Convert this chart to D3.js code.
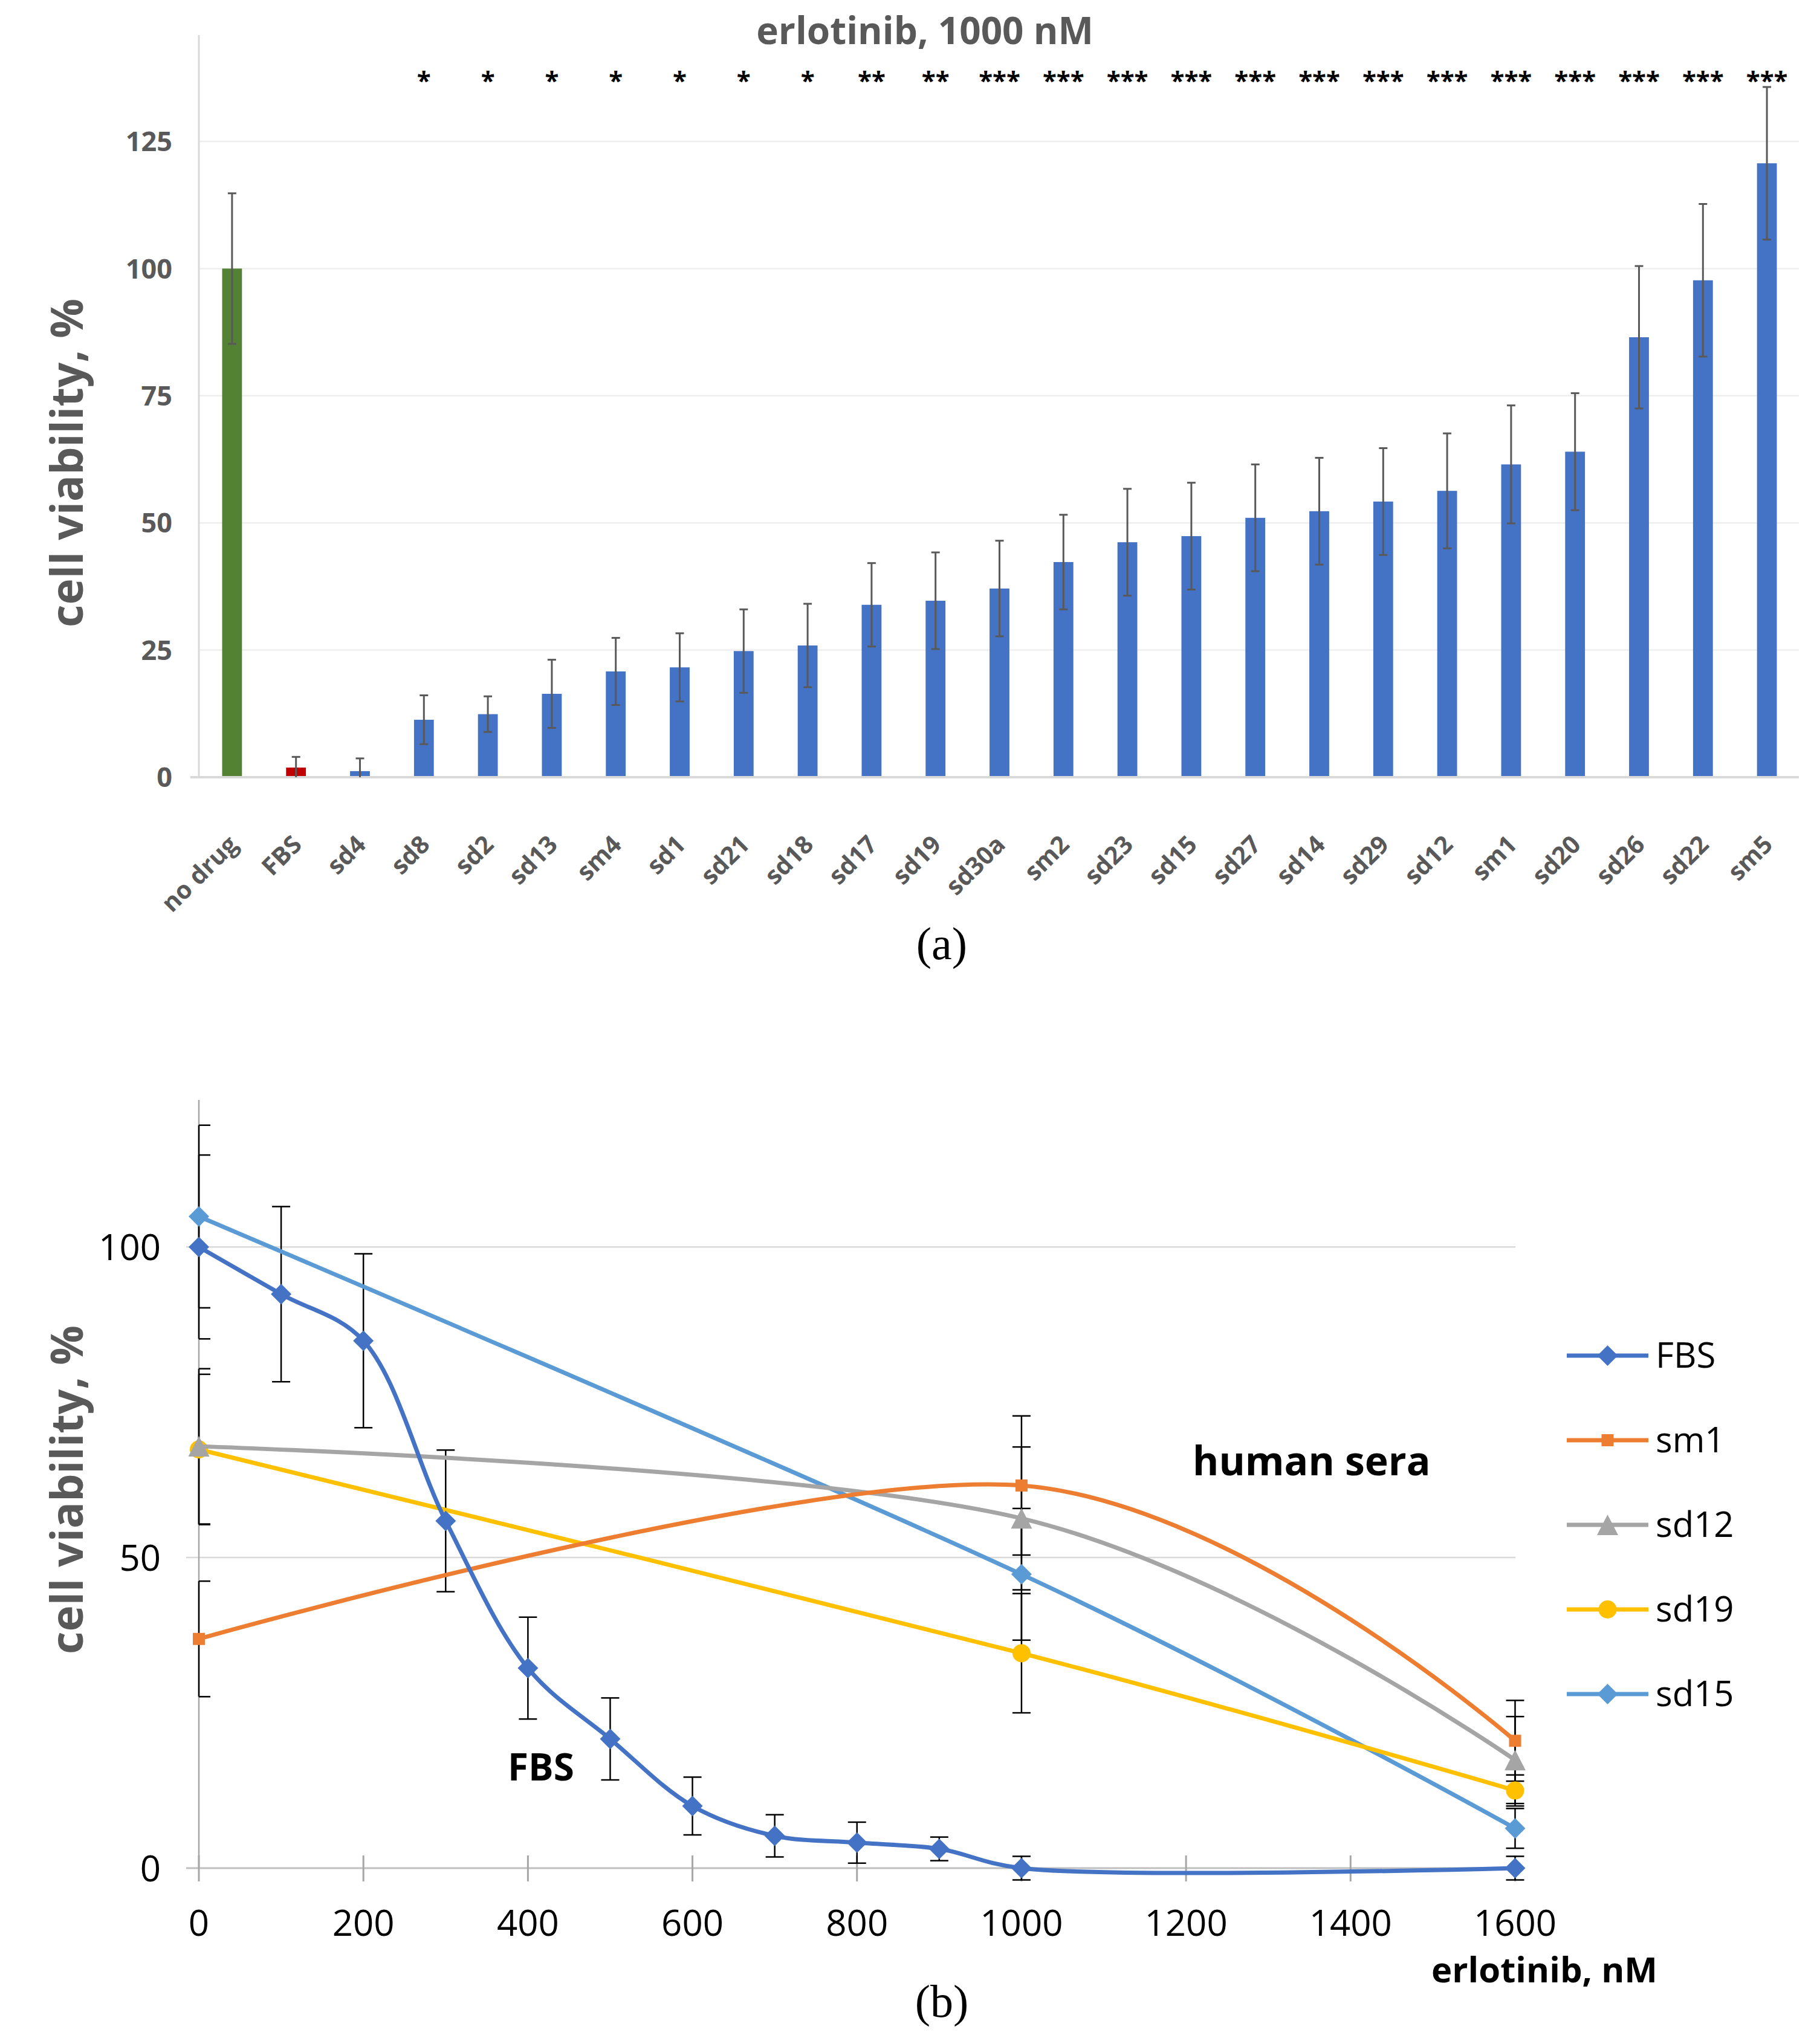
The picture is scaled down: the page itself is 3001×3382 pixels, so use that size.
<!DOCTYPE html>
<html><head><meta charset="utf-8">
<script src="https://cdn.jsdelivr.net/npm/d3@7"></script>
<style>html,body{margin:0;padding:0;background:#fff;} svg{display:block}</style>
</head><body>
<script>
// ---------- Panel (a) data ----------
const barCategories = ["no drug","FBS","sd4","sd8","sd2","sd13","sm4","sd1","sd21","sd18","sd17","sd19","sd30a","sm2","sd23","sd15","sd27","sd14","sd29","sd12","sm1","sd20","sd26","sd22","sm5"];
const barValues = [100, 1.9, 1.2, 11.3, 12.4, 16.4, 20.8, 21.6, 24.8, 25.9, 33.9, 34.7, 37.1, 42.3, 46.2, 47.4, 51.0, 52.3, 54.2, 56.3, 61.5, 64.0, 86.5, 97.7, 120.7];
const barErrors = [14.8, 2.1, 2.5, 4.8, 3.5, 6.7, 6.6, 6.7, 8.2, 8.2, 8.2, 9.5, 9.4, 9.3, 10.5, 10.5, 10.5, 10.5, 10.5, 11.3, 11.6, 11.5, 14.0, 15.0, 15.0];
const barSignificance = ["","","","*","*","*","*","*","*","*","**","**","***","***","***","***","***","***","***","***","***","***","***","***","***"];
const barColors = ["#548235","#C00000"]; // others blue
const barYTicks = [0,25,50,75,100,125];

// ---------- Panel (b) data ----------
const fbsDoses = [0,100,200,300,400,500,600,700,800,900,1000,1600];
const fbsValues = [100, 92.4, 84.9, 55.9, 32.2, 20.8, 10.0, 5.2, 4.1, 3.1, 0, 0];
const fbsErrors = [14.8, 14.1, 14.0, 11.4, 8.2, 6.6, 4.65, 3.4, 3.3, 1.9, 1.9, 1.9];
const seraDoses = [0,1000,1600];
const sm1Values = [36.9, 61.6, 20.5];
const sm1Errors = [9.3, 11.2, 6.5];
const sd12Values = [67.9, 56.3, 17.4];
const sd12Errors = [12.5, 11.5, 7.0];
const sd19Values = [67.4, 34.6, 12.5];
const sd19Errors = [12.1, 9.6, 2.5];
const sd15Values = [104.9, 47.3, 6.4];
const sd15Errors = [14.7, 10.6, 3.2];
const lineXTicks = [0,200,400,600,800,1000,1200,1400,1600];
const lineYTicks = [0,50,100];

const lineSeries = [
  {name:"FBS", x:fbsDoses, y:fbsValues, e:fbsErrors, color:"#4472C4", marker:"diamond", curve: d3.curveCatmullRom.alpha(0.5)},
  {name:"sm1", x:seraDoses, y:sm1Values, e:sm1Errors, color:"#ED7D31", marker:"square", curve: d3.curveCardinal.tension(0)},
  {name:"sd12", x:seraDoses, y:sd12Values, e:sd12Errors, color:"#A5A5A5", marker:"triangle", curve: d3.curveCardinal.tension(0)},
  {name:"sd19", x:seraDoses, y:sd19Values, e:sd19Errors, color:"#FFC000", marker:"circle", curve: d3.curveCardinal.tension(0)},
  {name:"sd15", x:seraDoses, y:sd15Values, e:sd15Errors, color:"#5B9BD5", marker:"diamond", curve: d3.curveCardinal.tension(0)}
];

const W = 3001, H = 3382;
const FONT = "'Open Sans', 'DejaVu Sans', sans-serif";
const svg = d3.select("body").append("svg").attr("width", W).attr("height", H)
  .style("font-family", FONT);
svg.append("rect").attr("width", W).attr("height", H).attr("fill", "#fff");

// ================= Panel (a) =================
const barData = barCategories.map((c, i) => ({c, v: barValues[i], e: barErrors[i], s: barSignificance[i], i}));
const ga = svg.append("g");
const xa = d3.scaleBand().domain(barCategories).range([331, 2976]).paddingInner(0.69).paddingOuter(0.345);
const ya = d3.scaleLinear().domain([0, 125]).range([1286, 234]);
const gray = "#595959";
const cxA = d => xa(d.c) + xa.bandwidth() / 2;

ga.selectAll("line.grid").data(barYTicks.filter(d => d > 0)).join("line")
  .attr("x1", 330).attr("x2", 2976).attr("y1", d => ya(d)).attr("y2", d => ya(d))
  .attr("stroke", "#EEEEEE").attr("stroke-width", 2.5);
ga.append("line").attr("x1", 329).attr("x2", 329).attr("y1", 58).attr("y2", ya(0))
  .attr("stroke", "#D9D9D9").attr("stroke-width", 3);
ga.selectAll("rect.bar").data(barData).join("rect")
  .attr("x", d => xa(d.c)).attr("width", xa.bandwidth())
  .attr("y", d => ya(d.v)).attr("height", d => ya(0) - ya(d.v))
  .attr("fill", d => d.i < 2 ? barColors[d.i] : "#4472C4");
ga.append("line").attr("x1", 315).attr("x2", 2976).attr("y1", ya(0)).attr("y2", ya(0))
  .attr("stroke", "#D9D9D9").attr("stroke-width", 4);
barData.forEach(d => {
  const g = ga.append("g").attr("stroke", gray).attr("stroke-width", 3);
  const x = cxA(d), top = ya(d.v + d.e), low = d.v - d.e;
  g.append("line").attr("x1", x).attr("x2", x).attr("y1", ya(Math.max(0, low))).attr("y2", top);
  g.append("line").attr("x1", x - 7).attr("x2", x + 7).attr("y1", top).attr("y2", top);
  if (low > 0) g.append("line").attr("x1", x - 7).attr("x2", x + 7).attr("y1", ya(low)).attr("y2", ya(low));
});
ga.selectAll("text.yt").data(barYTicks).join("text")
  .attr("x", 285).attr("y", d => ya(d)).attr("dy", "0.36em")
  .attr("text-anchor", "end").attr("font-size", 45).attr("font-weight", 700).attr("fill", gray)
  .text(d => d);
ga.selectAll("text.xl").data(barData).join("text")
  .attr("transform", d => `translate(${cxA(d) + 12},1400) rotate(-45)`)
  .attr("text-anchor", "end").attr("font-size", 41).attr("font-weight", 700).attr("fill", gray)
  .text(d => d.c);
ga.selectAll("text.sig").data(barData).join("text")
  .attr("x", d => cxA(d)).attr("y", 148)
  .attr("text-anchor", "middle").attr("font-size", 42).attr("font-weight", 700).attr("fill", "#000")
  .text(d => d.s);
ga.append("text").attr("x", 1530).attr("y", 73).attr("text-anchor", "middle")
  .attr("font-size", 62).attr("font-weight", 700).attr("fill", gray).text("erlotinib, 1000 nM");
ga.append("text").attr("transform", "translate(137,766) rotate(-90)").attr("text-anchor", "middle")
  .attr("font-size", 73).attr("font-weight", 700).attr("fill", gray).text("cell viability, %");
svg.append("text").attr("x", 1558).attr("y", 1587).attr("text-anchor", "middle")
  .attr("font-family", "'Liberation Serif', 'DejaVu Serif', serif").attr("font-size", 76)
  .attr("fill", "#000").text("(a)");

// ================= Panel (b) =================
const gb = svg.append("g");
const xb = d3.scaleLinear().domain([0, 1600]).range([329, 2506.5]);
const yb = d3.scaleLinear().domain([0, 100]).range([3091, 2063.2]);

gb.selectAll("line.grid").data(lineYTicks.filter(d => d > 0)).join("line")
  .attr("x1", 308).attr("x2", 2507).attr("y1", d => yb(d)).attr("y2", d => yb(d))
  .attr("stroke", "#D9D9D9").attr("stroke-width", 2.5);
gb.append("line").attr("x1", xb(0)).attr("x2", xb(0)).attr("y1", 1820).attr("y2", yb(0))
  .attr("stroke", "#A6A6A6").attr("stroke-width", 2.5);
gb.append("line").attr("x1", 308).attr("x2", 2507).attr("y1", yb(0)).attr("y2", yb(0))
  .attr("stroke", "#BFBFBF").attr("stroke-width", 3);
gb.selectAll("line.xt").data(lineXTicks).join("line")
  .attr("x1", d => xb(d)).attr("x2", d => xb(d)).attr("y1", yb(0) - 21).attr("y2", yb(0) + 22)
  .attr("stroke", "#A6A6A6").attr("stroke-width", 3);
gb.selectAll("text.xtl").data(lineXTicks).join("text")
  .attr("x", d => xb(d)).attr("y", 3203).attr("text-anchor", "middle")
  .attr("font-size", 60).attr("fill", "#000").text(d => d);
gb.selectAll("text.ytl").data(lineYTicks).join("text")
  .attr("x", 266).attr("y", d => yb(d)).attr("dy", "0.36em").attr("text-anchor", "end")
  .attr("font-size", 60).attr("fill", "#000").text(d => d);

lineSeries.forEach(s => {
  const g = gb.append("g").attr("stroke", "#000").attr("stroke-width", 2.5);
  s.x.forEach((xv, i) => {
    const cx = xb(xv), top = yb(s.y[i] + s.e[i]), bot = yb(Math.max(-2, s.y[i] - s.e[i]));
    const left = xv === 0 ? cx : cx - 15;
    const right = xv === 0 ? cx + 19 : cx + 15;
    g.append("line").attr("x1", cx).attr("x2", cx).attr("y1", top).attr("y2", bot);
    g.append("line").attr("x1", left).attr("x2", right).attr("y1", top).attr("y2", top);
    g.append("line").attr("x1", left).attr("x2", right).attr("y1", bot).attr("y2", bot);
  });
});

function markerPath(type) {
  if (type === "diamond") return "M0,-17L17,0L0,17L-17,0Z";
  if (type === "square") return "M-10,-10H10V10H-10Z";
  if (type === "triangle") return "M0,-17L17.5,17L-17.5,17Z";
  if (type === "circle") return d3.symbol(d3.symbolCircle, Math.PI * 15 * 15)();
  return "";
}

[...lineSeries].reverse().forEach(s => {
  const pts = s.x.map((xv, i) => [xb(xv), yb(s.y[i])]);
  const lineGen = d3.line().curve(s.curve);
  gb.append("path").attr("d", lineGen(pts)).attr("fill", "none")
    .attr("stroke", s.color).attr("stroke-width", 7).attr("stroke-linecap", "round");
  gb.selectAll(null).data(pts).join("path")
    .attr("transform", d => `translate(${d[0]},${d[1]})`)
    .attr("d", markerPath(s.marker)).attr("fill", s.color);
});

const leg = gb.append("g");
lineSeries.forEach((s, i) => {
  const yy = 2243 + i * 140;
  leg.append("line").attr("x1", 2592).attr("x2", 2727).attr("y1", yy).attr("y2", yy)
    .attr("stroke", s.color).attr("stroke-width", 7);
  leg.append("path").attr("transform", `translate(2659.5,${yy})`).attr("d", markerPath(s.marker)).attr("fill", s.color);
  leg.append("text").attr("x", 2739).attr("y", yy).attr("dy", "0.35em")
    .attr("font-size", 58).attr("fill", "#000").text(s.name);
});

gb.append("text").attr("x", 840).attr("y", 2946).attr("font-size", 62).attr("font-weight", 700)
  .attr("fill", "#000").text("FBS");
gb.append("text").attr("x", 1973).attr("y", 2441).attr("font-size", 66).attr("font-weight", 700)
  .attr("fill", "#000").text("human sera");
gb.append("text").attr("x", 2742).attr("y", 3280).attr("text-anchor", "end").attr("font-size", 58)
  .attr("font-weight", 700).attr("fill", "#000").text("erlotinib, nM");
gb.append("text").attr("transform", "translate(137,2465) rotate(-90)").attr("text-anchor", "middle")
  .attr("font-size", 73).attr("font-weight", 700).attr("fill", gray).text("cell viability, %");
svg.append("text").attr("x", 1558).attr("y", 3337).attr("text-anchor", "middle")
  .attr("font-family", "'Liberation Serif', 'DejaVu Serif', serif").attr("font-size", 76)
  .attr("fill", "#000").text("(b)");
</script>
</body></html>
